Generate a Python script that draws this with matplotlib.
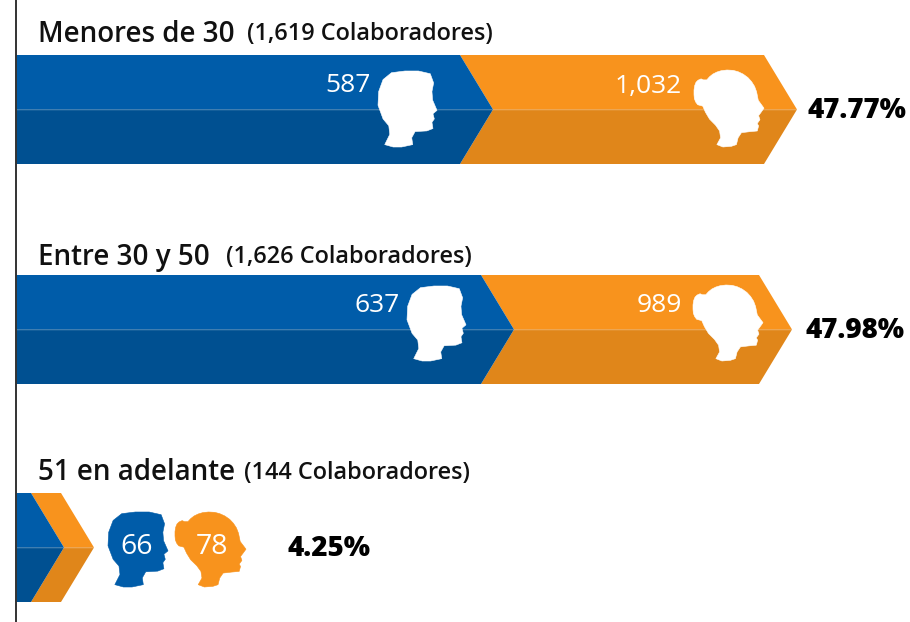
import matplotlib
matplotlib.use("Agg")
import matplotlib.pyplot as plt
import numpy as np
from matplotlib.patches import Polygon

# Values
groups = ["Menores de 30", "Entre 30 y 50", "51 en adelante"]
totals = ["(1,619 Colaboradores)", "(1,626 Colaboradores)", "(144 Colaboradores)"]
men = ["587", "637", "66"]
women = ["1,032", "989", "78"]
shares = ["47.77%", "47.98%", "4.25%"]
# bar lengths on the pixel axis, they are not proportional in the original
blue_lengths = [477, 498, 48]
total_lengths = [781, 776, 78]

BLUE, BLUE_DARK = "#005CA9", "#005091"
ORANGE, ORANGE_DARK = "#F8931D", "#E0861A"
FONT = "Open Sans"

# Head outlines
man_head = np.array([
    (80, 35), (120, 30), (160, 30), (195, 38), (205, 65), (200, 90), (202, 115), (215, 145),
    (203, 155), (207, 170), (200, 180), (203, 198), (185, 205), (150, 207), (140, 225),
    (143, 245), (110, 252), (85, 252), (60, 245), (75, 215), (72, 190), (55, 170), (40, 130),
    (42, 90), (55, 55),
], dtype=float)
woman_head = np.array([
    (45, 52), (36, 56), (30, 62), (26, 72), (24, 85), (24, 98), (25, 110), (29, 120), (35, 128),
    (50, 132), (58, 150), (70, 170), (88, 188), (100, 205), (103, 225), (92, 245), (110, 252),
    (135, 250), (150, 245), (155, 225), (165, 210), (190, 207), (212, 205), (216, 190),
    (212, 183), (220, 172), (216, 160), (222, 152), (232, 138), (215, 115), (210, 90),
    (204, 74), (195, 60), (184, 48), (170, 38), (155, 31), (140, 27), (122, 26), (105, 28),
    (92, 32), (80, 38), (70, 46), (62, 55), (52, 55),
], dtype=float)


def draw_head(ax, outline, x0, x1, y0, y1, color):
    # scale outline into the box
    pts = outline.copy()
    pts[:, 0] = x0 + (pts[:, 0] - pts[:, 0].min()) / np.ptp(pts[:, 0]) * (x1 - x0)
    pts[:, 1] = y0 + (pts[:, 1] - pts[:, 1].min()) / np.ptp(pts[:, 1]) * (y1 - y0)
    ax.add_patch(Polygon(pts, fc=color, ec=color, lw=0.4, joinstyle="round", zorder=4))


def draw_arrow(ax, left, right, top, bottom, depth, light, dark, notch=True):
    # one chevron, upper and lower half in two shades
    mid = (top + bottom) / 2
    inner = left + depth if notch else left
    ax.add_patch(Polygon([(left, top), (right - depth, top), (right, mid), (inner, mid)],
                         fc=light, ec="none", zorder=2))
    ax.add_patch(Polygon([(inner, mid), (right, mid), (right - depth, bottom), (left, bottom)],
                         fc=dark, ec="none", zorder=2))


fig = plt.figure(figsize=(9.1, 6.22), dpi=100)
ax = fig.add_axes([0, 0, 1, 1])
ax.set_xlim(0, 910)
ax.set_ylim(622, 0)
ax.axis("off")

start = 16
depth = 33
tops = [55, 275, 493]
bar_h = 109
title_y = [34, 257, 473]
sub_x = [247, 226, 244]
man_boxes = [(378, 437, 71, 147), (407, 466, 286, 361), (108, 168, 512, 587)]
woman_boxes = [(694, 764, 70, 147), (693, 763, 285, 361), (175, 246, 512, 587)]
men_text_x = [371, 400, 137]
women_text_x = [682, 682, 212]
share_x = [807, 805, 287]

for i, group in enumerate(groups):
    top = tops[i]
    mid = top + bar_h / 2
    blue_end = start + blue_lengths[i]
    total_end = start + total_lengths[i]

    # orange goes first so the blue tip sits over its notch
    draw_arrow(ax, blue_end - depth, total_end, top, top + bar_h, depth, ORANGE, ORANGE_DARK)
    draw_arrow(ax, start, blue_end, top, top + bar_h, depth, BLUE, BLUE_DARK, notch=False)
    ax.plot([start, total_end], [mid, mid], color="white", lw=0.5, alpha=0.12, zorder=3)

    ax.text(38, title_y[i], group, fontsize=20, fontfamily=FONT, fontweight="semibold",
            color="#111111", va="center", ha="left")
    ax.text(sub_x[i], title_y[i], totals[i], fontsize=16.9, fontfamily=FONT, fontweight="semibold",
            color="#111111", va="center", ha="left")

    draw_head(ax, man_head, *man_boxes[i], "white" if i < 2 else BLUE)
    draw_head(ax, woman_head, *woman_boxes[i], "white" if i < 2 else ORANGE)

    if i < 2:
        ax.text(men_text_x[i], top + 31, men[i], fontsize=19, fontfamily=FONT, color="white",
                va="center", ha="right", zorder=5)
        ax.text(women_text_x[i], top + 31, women[i], fontsize=19, fontfamily=FONT, color="white",
                va="center", ha="right", zorder=5)
    else:
        ax.text(men_text_x[i], 547, men[i], fontsize=20.5, fontfamily=FONT, color="white",
                va="center", ha="center", zorder=5)
        ax.text(women_text_x[i], 547, women[i], fontsize=20.5, fontfamily=FONT, color="white",
                va="center", ha="center", zorder=5)

    ax.text(share_x[i], mid + 1, shares[i], fontsize=20, fontfamily=FONT, fontweight="extra bold",
            color="black", va="center", ha="left", zorder=5)

ax.plot([16, 16], [0, 622], color="#333333", lw=1.4, zorder=6)

fig.savefig("out.png", dpi=100)
